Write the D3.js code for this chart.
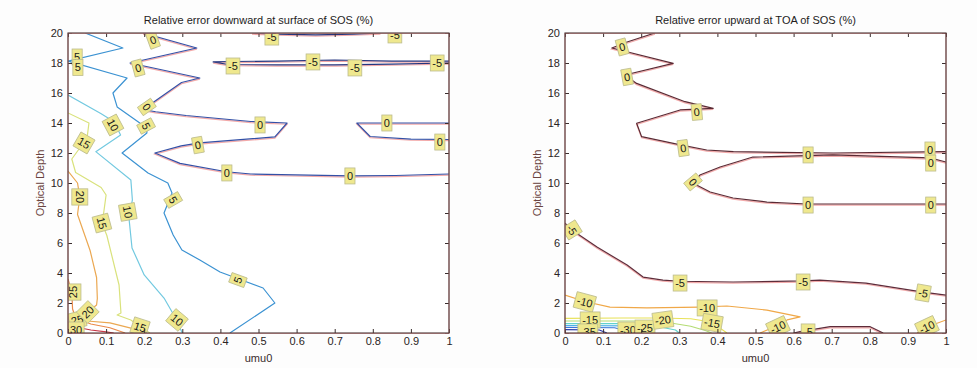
<!DOCTYPE html>
<html>
<head>
<meta charset="utf-8">
<script src="https://cdn.jsdelivr.net/npm/d3@7"></script>
<style>
  html, body { margin: 0; padding: 0; background: #fdfdfd; }
  svg { display: block; }
  text { font-family: "Liberation Sans", Arial, Helvetica, sans-serif; }
</style>
</head>
<body>
<svg id="chart" width="977" height="368"></svg>
<script>
// ---------- axis ticks ----------
const xTicks = [0, 0.1, 0.2, 0.3, 0.4, 0.5, 0.6, 0.7, 0.8, 0.9, 1];
const yTicks = [0, 2, 4, 6, 8, 10, 12, 14, 16, 18, 20];

// ---------- left panel: contour lines [umu0, optical depth] ----------
const leftLevels = [-5, -5, 0, 0, 5, 10, 15, 20, 25, 30];
const L_m5_top = [[0.483,20],[0.55,19.93],[0.65,19.87],[0.75,19.93],[0.82,20]];
const L_m5_18 = [[1,18.13],[0.85,18.13],[0.7,18.2],[0.55,18.13],[0.43,18.1],[0.381,18.07],[0.42,17.9],[0.55,17.87],[0.7,17.87],[0.85,17.93],[1,18.0]];
const L_0_a = [[0.197,20],[0.338,19],[0.163,18],[0.346,17],[0.298,16.7],[0.197,14.9],[0.23,14.75],[0.31,14.5],[0.48,14.1],[0.575,14.0],[0.543,13.07],[0.345,12.67],[0.297,12.47],[0.228,12],[0.294,11.31],[0.416,10.75],[0.48,10.6],[0.74,10.47],[0.86,10.5],[1,10.6]];
const L_0_b = [[1,14.0],[0.85,14.0],[0.758,14.0],[0.793,13.1],[0.9,12.93],[1,12.9]];
const L_5 = [[0.045,20],[0.144,19],[0,18.13],[0.155,17],[0.118,16],[0.129,15.07],[0.207,13.67],[0.207,13.33],[0.142,12],[0.21,10.67],[0.262,10],[0.273,9.33],[0.252,8],[0.276,6.53],[0.299,5.53],[0.346,4.87],[0.399,4.07],[0.512,3.0],[0.543,2.0],[0.425,0]];
const L_10 = [[0,15.87],[0.086,14.64],[0.121,14.09],[0.138,13.2],[0.073,12.09],[0.165,10.2],[0.169,8.87],[0.16,7.67],[0.168,5.67],[0.2,3.87],[0.252,2.33],[0.28,1.1],[0.3,0]];
const L_15 = [[0,14.67],[0.055,14.0],[0.05,13.0],[0.03,12.3],[0.01,11.6],[0.02,10.7],[0.087,9.7],[0.1,9.2],[0.094,8.07],[0.089,7.33],[0.102,6.5],[0.134,3.2],[0.139,1.33],[0.129,1.2],[0.165,0.87],[0.19,0.4],[0.215,0]];
const L_20 = [[0,10.8],[0.025,10.0],[0.031,9.07],[0.025,7.9],[0.058,5.5],[0.075,3.7],[0.077,2.3],[0.075,1.87],[0.052,1.4],[0.02,1.0],[0.05,0.8],[0.11,0.67],[0.165,0.33],[0.2,0]];
const L_25 = [[0,3.6],[0.01,2.73],[0.012,1.6],[0.02,1.0],[0.06,0.6],[0.11,0.35],[0.15,0]];
const L_30 = [[0.03,0.35],[0.06,0.2],[0.1,0.07],[0.12,0]];
const leftLines = [L_m5_top, L_m5_18, L_0_a, L_0_b, L_5, L_10, L_15, L_20, L_25, L_30];

// left labels: [umu0, depth, text]
const leftLabels = [
  [0.223,19.53,"0"],[0.535,19.73,"-5"],[0.858,19.87,"-5"],
  [0.024,18.4,"5"],[0.026,17.7,"5"],[0.184,17.67,"0"],
  [0.433,17.8,"-5"],[0.643,18.07,"-5"],[0.753,17.67,"-5"],[0.969,18.0,"-5"],
  [0.207,15.07,"0"],[0.118,13.87,"10"],[0.205,13.8,"5"],
  [0.504,13.87,"0"],[0.837,14.0,"0"],[0.042,12.67,"15"],
  [0.341,12.53,"0"],[0.976,12.73,"0"],[0.417,10.67,"0"],[0.74,10.47,"0"],
  [0.031,9.07,"20"],[0.276,8.87,"5"],[0.157,8.07,"10"],[0.089,7.33,"15"],
  [0.446,3.53,"5"],[0.013,2.73,"25"],[0.024,0.87,"25"],[0.052,1.4,"20"],
  [0.286,0.87,"10"],[0.189,0.4,"15"],[0.021,0.2,"30"]
];
const leftLabelAngles = [-20,0,0, 0,0,-15, 0,0,0,0, 55,62,62, 0,0,30, -10,0,0,0,
  90,60,80,75, -70,-90,-15,-45, 40,18,0];

// ---------- right panel ----------
const rightLevels = [0, 0, -5, -5, -10, -10, -15, -20, -25, -30, -35, -40];
const R_0_a = [[0.236,20],[0.163,19.4],[0.123,19],[0.284,17.98],[0.157,17.2],[0.188,16.64],[0.315,15.42],[0.389,14.98],[0.302,14.87],[0.188,13.98],[0.201,13.09],[0.306,12.53],[0.372,12.2],[0.442,12.09],[0.704,12.0],[1,12.09]];
const R_0_b = [[1,11.4],[0.958,11.67],[0.703,11.87],[0.493,11.73],[0.407,11.07],[0.354,10.53],[0.335,10.0],[0.381,9.4],[0.441,9.0],[0.53,8.73],[0.635,8.6],[1,8.6]];
const R_m5 = [[0,7.33],[0.018,6.87],[0.084,5.73],[0.163,4.53],[0.205,3.73],[0.257,3.53],[0.302,3.45],[0.441,3.4],[0.625,3.47],[0.669,3.53],[0.79,3.33],[0.94,2.73],[1,2.53]];
const R_m5_b = [[0.6,0],[0.617,0.09],[0.696,0.42],[0.801,0.42],[0.835,0]];
const R_m10_a = [[0,2.53],[0.052,2.1],[0.118,1.73],[0.215,1.67],[0.354,1.73],[0.425,1.8],[0.53,1.53],[0.617,1.07],[0.583,0.87],[0.555,0.45],[0.512,0]];
const R_m10_b = [[1,0.87],[0.95,0.4],[0.924,0]];
const R_m15 = [[0,0.97],[0.15,1.0],[0.25,1.0],[0.33,0.95],[0.38,0.75],[0.4,0.45],[0.425,0]];
const R_m20 = [[0,0.8],[0.2,0.8],[0.27,0.7],[0.33,0.45],[0.37,0.15],[0.385,0]];
const R_m25 = [[0,0.63],[0.18,0.62],[0.24,0.45],[0.29,0.2],[0.3,0]];
const R_m30 = [[0,0.5],[0.16,0.48],[0.2,0.3],[0.23,0]];
const R_m35 = [[0,0.37],[0.13,0.35],[0.16,0.15],[0.17,0]];
const R_m40 = [[0,0.23],[0.09,0.2],[0.11,0]];
const rightLines = [R_0_a, R_0_b, R_m5, R_m5_b, R_m10_a, R_m10_b, R_m15, R_m20, R_m25, R_m30, R_m35, R_m40];

const rightLabels = [
  [0.15,19.07,"0"],[0.163,17.07,"0"],[0.346,14.73,"0"],[0.31,12.33,"0"],
  [0.638,11.87,"0"],[0.958,12.2,"0"],[0.96,11.33,"0"],[0.336,10.07,"0"],
  [0.638,8.53,"0"],[0.96,8.53,"0"],
  [0.018,6.87,"-5"],[0.302,3.33,"-5"],[0.625,3.4,"-5"],[0.94,2.67,"-5"],
  [0.052,2.07,"-10"],[0.373,1.67,"-10"],[0.559,0.4,"-10"],[0.95,0.4,"-10"],
  [0.638,0.07,"-5"],[0.066,0.87,"-15"],[0.386,0.67,"-15"],
  [0.06,0.07,"-35"],[0.165,0.2,"-30"],[0.21,0.33,"-25"],[0.257,0.87,"-20"]
];
const rightLabelAngles = [-15,-10,-5,-8, 0,0,0,50, 0,0, 58,0,0,10, 15,0,-25,-25, 0,0,10, 0,0,0,-8];

// ---------- colours per level ----------
const levelColor = {
  "-40":"#2a3aa8","-35":"#3a78d8","-30":"#4cb0ea","-25":"#62d2cc","-20":"#b4dc74",
  "-15":"#e8e25a","-10":"#f0a848"
};
const leftColor = {"-5":"#25357e","0":"#3350a6","5":"#3b92d2","10":"#72c9e0","15":"#d9e27c","20":"#eba852","25":"#ea8a4a","30":"#c83848"};
const rightColor = Object.assign({}, levelColor, {"0":"#5a2a34","-5":"#5e2c3a"});

const svg = d3.select("#chart");

function panel(opts) {
  const x = d3.scaleLinear().domain([0, 1]).range([opts.x0, opts.x1]);
  const y = d3.scaleLinear().domain([0, 20]).range([333, 33]);
  const g = svg.append("g");
  const clipId = "clip" + opts.id;
  svg.append("defs").append("clipPath").attr("id", clipId)
    .append("rect").attr("x", opts.x0).attr("y", 33)
    .attr("width", opts.x1 - opts.x0).attr("height", 300);

  g.append("rect").attr("x", opts.x0).attr("y", 33)
    .attr("width", opts.x1 - opts.x0).attr("height", 300).attr("fill", "#ffffff");

  const line = d3.line().x(d => x(d[0])).y(d => y(d[1]));
  const cg = g.append("g").attr("clip-path", `url(#${clipId})`);

  opts.lines.forEach((pts, i) => {
    const lev = opts.levels[i];
    const col = opts.colors[String(lev)];
    if (opts.shadowLevels.includes(lev)) {
      cg.append("path").attr("d", line(pts)).attr("fill", "none")
        .attr("stroke", "#ee8c8c").attr("stroke-width", 1.2).attr("opacity", 0.75)
        .attr("transform", "translate(0,1.2)");
    }
    cg.append("path").attr("d", line(pts)).attr("fill", "none")
      .attr("stroke", col).attr("stroke-width", 1.2)
      .attr("stroke-linejoin", "round");
  });

  opts.labels.forEach((lb, i) => {
    const lg = cg.append("g")
      .attr("transform", `translate(${x(lb[0])},${y(lb[1])}) rotate(${opts.angles[i]})`);
    const r = lg.append("rect").attr("fill", "#efe88e").attr("stroke", "#bcbc8e").attr("stroke-width", 0.8);
    const t = lg.append("text").text(lb[2]).attr("text-anchor", "middle")
      .attr("dy", "0.36em").attr("font-size", 11).attr("fill", "#1a1a1a");
    const w = t.node().getComputedTextLength() + 4;
    const h = 16;
    r.attr("x", -w / 2).attr("y", -h / 2).attr("width", w).attr("height", h);
  });

  const tickFmt = d => String(+d.toFixed(1));
  const axCol = "#3a2e2e";
  const ab = g.append("g").attr("transform", "translate(0,333)")
    .call(d3.axisBottom(x).tickValues(xTicks).tickFormat(tickFmt).tickSizeInner(-4).tickSizeOuter(0).tickPadding(4));
  const at = g.append("g").attr("transform", "translate(0,33)")
    .call(d3.axisTop(x).tickValues(xTicks).tickFormat("").tickSizeInner(-4).tickSizeOuter(0));
  const al = g.append("g").attr("transform", `translate(${opts.x0},0)`)
    .call(d3.axisLeft(y).tickValues(yTicks).tickSizeInner(-4).tickSizeOuter(0).tickPadding(5));
  const ar = g.append("g").attr("transform", `translate(${opts.x1},0)`)
    .call(d3.axisRight(y).tickValues(yTicks).tickFormat("").tickSizeInner(-4).tickSizeOuter(0));
  [ab, at, al, ar].forEach(a => {
    a.select(".domain").remove();
    a.selectAll(".tick line").attr("stroke", axCol);
    a.selectAll(".tick text").attr("font-size", 11).attr("fill", "#2a2424")
      .attr("font-family", '"Liberation Sans", Arial, sans-serif');
  });

  g.append("rect").attr("x", opts.x0).attr("y", 33.5)
    .attr("width", opts.x1 - opts.x0).attr("height", 300)
    .attr("fill", "none").attr("stroke", "#e89a9a").attr("stroke-width", 1).attr("opacity", 0.8);
  g.append("rect").attr("x", opts.x0).attr("y", 33)
    .attr("width", opts.x1 - opts.x0).attr("height", 300)
    .attr("fill", "none").attr("stroke", "#4a3434").attr("stroke-width", 1.1);

  const cx = (opts.x0 + opts.x1) / 2;
  g.append("text").attr("x", cx).attr("y", 24).attr("text-anchor", "middle")
    .attr("font-size", 11).attr("fill", "#241c1c").text(opts.title);
  g.append("text").attr("x", cx).attr("y", 362).attr("text-anchor", "middle")
    .attr("font-size", 11).attr("fill", "#3a2c2c").text("umu0");
  g.append("text").attr("transform", `translate(${opts.x0 - 24},183) rotate(-90)`)
    .attr("text-anchor", "middle").attr("font-size", 11).attr("fill", "#6a4440")
    .text("Optical Depth");
}

panel({
  id: "L", x0: 68, x1: 449,
  lines: leftLines, levels: leftLevels, colors: leftColor, shadowLevels: [-5, 0],
  labels: leftLabels, angles: leftLabelAngles,
  title: "Relative error downward at surface of SOS (%)"
});
panel({
  id: "R", x0: 565, x1: 946,
  lines: rightLines, levels: rightLevels, colors: rightColor, shadowLevels: [0, -5],
  labels: rightLabels, angles: rightLabelAngles,
  title: "Relative error upward at TOA of SOS (%)"
});
</script>
</body>
</html>
